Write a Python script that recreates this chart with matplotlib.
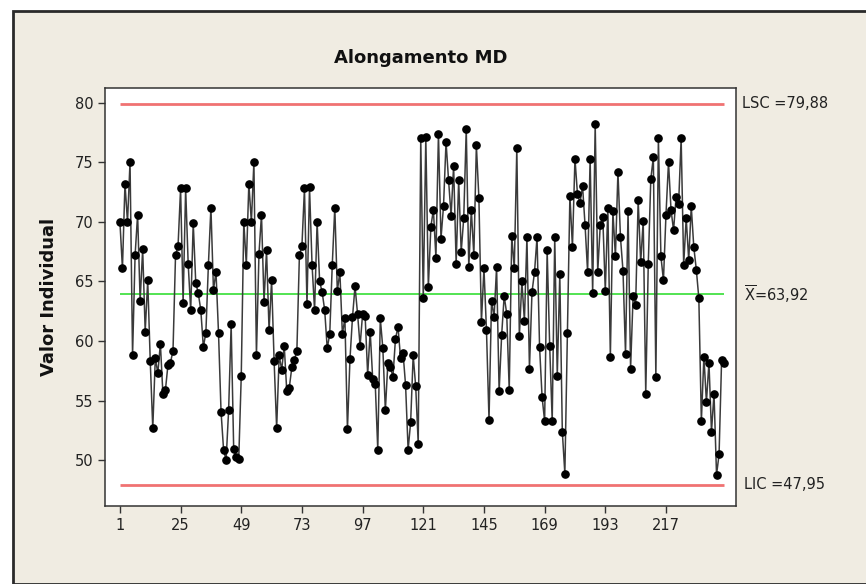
import matplotlib
matplotlib.use("Agg")
import matplotlib.pyplot as plt
from matplotlib.patches import Rectangle
import numpy as np

# Individual values (I chart) for MD elongation, in sample order
valores = [
    70.0, 66.1, 73.2, 70.0, 75.0, 58.8, 67.2, 70.6, 63.4, 67.7,
    60.8, 65.1, 58.3, 52.7, 58.6, 57.3, 59.8, 55.6, 55.9, 58.0,
    58.2, 59.2, 67.2, 68.0, 72.8, 63.2, 72.8, 66.5, 62.6, 69.9,
    64.9, 64.0, 62.6, 59.5, 60.7, 66.4, 71.2, 64.3, 65.8, 60.7,
    54.1, 50.9, 50.0, 54.2, 61.4, 51.0, 50.3, 50.1, 57.1,
    70.0, 66.4, 73.2, 70.0, 75.0, 58.8, 67.3, 70.6, 63.3, 67.6,
    60.9, 65.1, 58.3, 52.7,
    58.8, 57.6, 59.6, 55.8, 56.1, 57.8, 58.4, 59.2, 67.2, 68.0,
    72.8, 63.1, 72.9, 66.4, 62.6, 70.0, 65.0, 64.1, 62.6, 59.4,
    60.6, 66.4,
    71.2, 64.2, 65.8, 60.6, 61.9, 52.6, 58.5, 62.0, 64.6, 62.3,
    59.6, 62.3, 62.1, 57.2, 60.8, 56.8, 56.4, 50.9, 61.9, 59.4,
    54.2, 58.2, 57.8, 57.0, 60.2, 61.2, 58.6, 59.0, 56.3, 50.9,
    53.2, 58.8, 56.2, 51.4,
    77.0, 63.6, 77.1, 64.5, 69.6, 71.0, 67.0, 77.4, 68.6, 71.3,
    76.7, 73.5, 70.5, 74.7, 66.5, 73.5, 67.5, 70.3, 77.8, 66.2,
    71.0, 67.2, 76.4, 72.0, 61.6, 66.1, 60.9, 53.4,
    63.4, 62.0, 66.2, 55.8, 60.5, 63.8, 62.3, 55.9, 68.8, 66.1,
    76.2, 60.4, 65.0, 61.7, 68.7, 57.7, 64.1, 65.8, 68.7, 59.5,
    55.3, 53.3, 67.6, 59.6, 53.3, 68.7, 57.1, 65.6, 52.4, 48.9,
    60.7, 72.2, 67.9, 75.3,
    72.3, 71.6, 73.0, 69.7, 65.8, 75.3, 64.0, 78.2, 65.8, 69.7,
    70.4, 64.2, 71.2, 58.7, 70.9, 67.1, 74.2, 68.7, 65.9, 58.9,
    70.9, 57.7, 63.8, 63.0, 71.8, 66.6, 70.1, 55.6, 66.5, 73.6,
    75.4,
    57.0, 77.0, 67.1, 65.1, 70.6, 75.0, 71.0, 69.3, 72.1, 71.5,
    77.0, 66.4, 70.3, 66.8, 71.3, 67.9, 66.0, 63.6, 53.3, 58.7,
    54.9, 58.2, 52.4, 55.6, 48.8, 50.5, 58.4, 58.2,
]

lsc = 79.88
media = 63.92
lic = 47.95

xticks = [1, 25, 49, 73, 97, 121, 145, 169, 193, 217]
yticks = [50, 55, 60, 65, 70, 75, 80]

amostra = np.arange(1, len(valores) + 1)

fig = plt.figure(figsize=(8.66, 5.84), dpi=100, facecolor="white")

# beige panel with dark frame
fig.patches.append(Rectangle((13 / 866, 0), 1, 1 - 11 / 584, transform=fig.transFigure,
                             facecolor="#f0ece2", edgecolor="#2a2a2a", linewidth=2, zorder=-10))

ax = fig.add_axes([105 / 866, 1 - 506 / 584, (736 - 105) / 866, (506 - 88) / 584])
ax.set_facecolor("white")

ax.plot(amostra, valores, color="#3a3a3a", linewidth=1.1, zorder=3)
ax.plot(amostra, valores, linestyle="none", marker="o", markersize=5.2,
        color="black", zorder=4)

ax.hlines([lsc, lic], 1, len(valores), color="#f07272", linewidth=2, zorder=2)
ax.hlines(media, 1, len(valores), color="#44e044", linewidth=1.3, zorder=2)

ax.set_xlim(-4.9, 244.7)
ax.set_ylim(46.18, 81.22)
ax.set_xticks(xticks)
ax.set_yticks(yticks)
ax.tick_params(direction="out", length=5, width=1, color="#333333",
               labelsize=10.5, labelcolor="#222222")
for s in ax.spines.values():
    s.set_color("#333333")
    s.set_linewidth(1.1)

ax.set_title("Alongamento MD", fontsize=13, fontweight="bold", color="#111111", pad=18)
ax.set_ylabel("Valor Individual", fontsize=13, fontweight="bold", color="#111111", labelpad=12)

trans = ax.get_yaxis_transform()
ax.text(1.01, lsc, "LSC =79,88", transform=trans, va="center", ha="left",
        fontsize=10.5, color="#222222", clip_on=False)
ax.text(1.013, media, r"$\overline{\mathrm{X}}$=63,92", transform=trans, va="center",
        ha="left", fontsize=10.5, color="#222222", clip_on=False)
ax.text(1.013, lic, "LIC =47,95", transform=trans, va="center", ha="left",
        fontsize=10.5, color="#222222", clip_on=False)

fig.savefig("out.png", dpi=100)
